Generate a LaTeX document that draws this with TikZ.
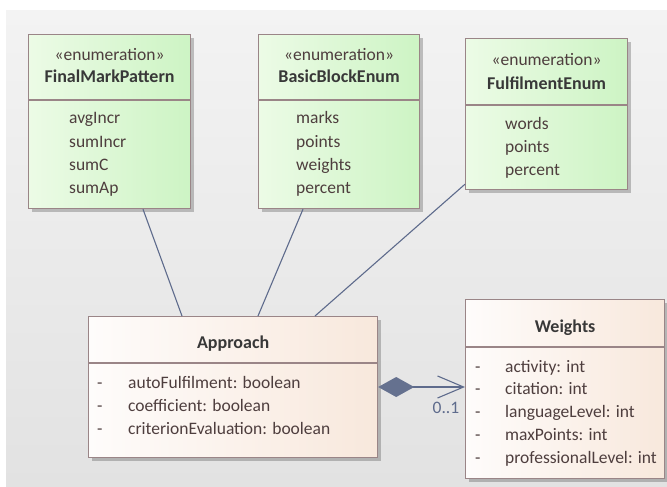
\documentclass[tikz,border=0pt]{standalone}
\usepackage{fontspec}
\setmainfont{Carlito}
\usetikzlibrary{arrows.meta,shadows,calc}

\definecolor{bgtop}{HTML}{F3F3F3}
\definecolor{bgbot}{HTML}{E2E2E2}
\definecolor{bordc}{HTML}{9A8587}
\definecolor{enumL}{HTML}{ECFBE6}
\definecolor{enumR}{HTML}{CDF4C4}
\definecolor{clsL}{HTML}{FEFCFB}
\definecolor{clsR}{HTML}{F8E8DC}
\definecolor{titlec}{HTML}{383838}
\definecolor{itemc}{HTML}{4E3E3E}
\definecolor{linkc}{HTML}{5E6B8C}
\definecolor{diamc}{HTML}{65718F}

\tikzset{
  umlbox/.style={draw=bordc, line width=1.2pt, rectangle, inner sep=0pt,
    anchor=north west,
    drop shadow={shadow xshift=3pt, shadow yshift=-3pt, fill=black, opacity=0.22}},
  enumbox/.style={umlbox, left color=enumL, right color=enumR},
  clsbox/.style={umlbox, left color=clsL, right color=clsR},
  divider/.style={draw=bordc, line width=1.2pt},
  stereo/.style={font=\fontsize{17.5}{20}\selectfont, text=itemc, anchor=base, inner sep=0pt},
  title/.style={font=\fontsize{18}{20}\selectfont\bfseries, text=titlec, anchor=base, inner sep=0pt},
  item/.style={font=\fontsize{17.5}{20}\selectfont, text=itemc, anchor=base west, inner sep=0pt},
  link/.style={draw=linkc, line width=1.1pt},
}

\begin{document}
\begin{tikzpicture}[x=1pt, y=-1pt]
\useasboundingbox (0,0) rectangle (667,487);
% canvas background
\fill[top color=bgtop, bottom color=bgbot] (6,11) rectangle (667,487);

% ---- FinalMarkPattern ----
\node[enumbox, minimum width=162pt, minimum height=174pt] (fmp) at (28,34) {};
\draw[divider] ($(fmp.north west)+(0,66)$) -- ($(fmp.north east)+(0,66)$);
\node[stereo] (fmp-st) at ($(fmp.north)+(0,27)$) {«enumeration»};
\node[title] (fmp-t) at ($(fmp.north)+(0,49)$) {FinalMarkPattern};
\node[item] (fmp-1) at ($(fmp.north west)+(41,90)$) {avgIncr};
\node[item] (fmp-2) at ($(fmp.north west)+(41,113)$) {sumIncr};
\node[item] (fmp-3) at ($(fmp.north west)+(41,136)$) {sumC};
\node[item] (fmp-4) at ($(fmp.north west)+(41,159)$) {sumAp};

% ---- BasicBlockEnum ----
\node[enumbox, minimum width=161pt, minimum height=174pt] (bbe) at (258,34) {};
\draw[divider] ($(bbe.north west)+(0,66)$) -- ($(bbe.north east)+(0,66)$);
\node[stereo] (bbe-st) at ($(bbe.north)+(0,27)$) {«enumeration»};
\node[title] (bbe-t) at ($(bbe.north)+(0,49)$) {BasicBlockEnum};
\node[item] (bbe-1) at ($(bbe.north west)+(38,90)$) {marks};
\node[item] (bbe-2) at ($(bbe.north west)+(38,113)$) {points};
\node[item] (bbe-3) at ($(bbe.north west)+(38,136)$) {weights};
\node[item] (bbe-4) at ($(bbe.north west)+(38,159)$) {percent};

% ---- FulfilmentEnum ----
\node[enumbox, minimum width=162pt, minimum height=151pt] (fe) at (465,38) {};
\draw[divider] ($(fe.north west)+(0,67)$) -- ($(fe.north east)+(0,67)$);
\node[stereo] (fe-st) at ($(fe.north)+(0,28)$) {«enumeration»};
\node[title] (fe-t) at ($(fe.north)+(0,52)$) {FulfilmentEnum};
\node[item] (fe-1) at ($(fe.north west)+(40,91)$) {words};
\node[item] (fe-2) at ($(fe.north west)+(40,114)$) {points};
\node[item] (fe-3) at ($(fe.north west)+(40,137)$) {percent};

% ---- Approach ----
\node[clsbox, minimum width=289pt, minimum height=141pt] (app) at (88,316) {};
\draw[divider] ($(app.north west)+(0,47)$) -- ($(app.north east)+(0,47)$);
\node[title] (app-t) at ($(app.north)+(0,32)$) {Approach};
\foreach \n/\txt [count=\i from 0] in {1/autoFulfilment: boolean, 2/coefficient: boolean, 3/criterionEvaluation: boolean} {
  \node[item] (app-d\n) at ($(app.north west)+(9,72+23*\i)$) {-};
  \node[item] (app-\n) at ($(app.north west)+(40,72+23*\i)$) {\txt};
}

% ---- Weights ----
\node[clsbox, minimum width=199pt, minimum height=179pt] (wts) at (465,299) {};
\draw[divider] ($(wts.north west)+(0,48)$) -- ($(wts.north east)+(0,48)$);
\node[title] (wts-t) at ($(wts.north)+(0,33)$) {Weights};
\foreach \n/\txt [count=\i from 0] in {1/activity: int, 2/citation: int, 3/languageLevel: int, 4/maxPoints: int, 5/professionalLevel: int} {
  \node[item] (wts-d\n) at ($(wts.north west)+(10,73+22.8*\i)$) {-};
  \node[item] (wts-\n) at ($(wts.north west)+(40,73+22.8*\i)$) {\txt};
}

% ---- connectors ----
\draw[link] ($(fmp.south west)+(115,0)$) -- ($(app.north west)+(94,0)$);
\draw[link] ($(bbe.south west)+(45,0)$) -- ($(app.north west)+(170,0)$);
\draw[link] ($(fe.south west)+(0,-6)$) -- ($(app.north west)+(227,0)$);

% composition Approach -> Weights
\coordinate (comp-s) at ($(app.north east)+(0,71)$);
\draw[link, {Diamond[length=36pt, width=20pt, fill=diamc, line width=0pt]}-{Straight Barb[length=26pt, width=22pt, line width=1.1pt]}]
  (comp-s) -- (comp-s -| wts.west);
\node[font=\fontsize{17.5}{20}\selectfont, text=linkc, anchor=base, inner sep=0pt] (mult) at (446,413) {0..1};
\end{tikzpicture}
\end{document}
